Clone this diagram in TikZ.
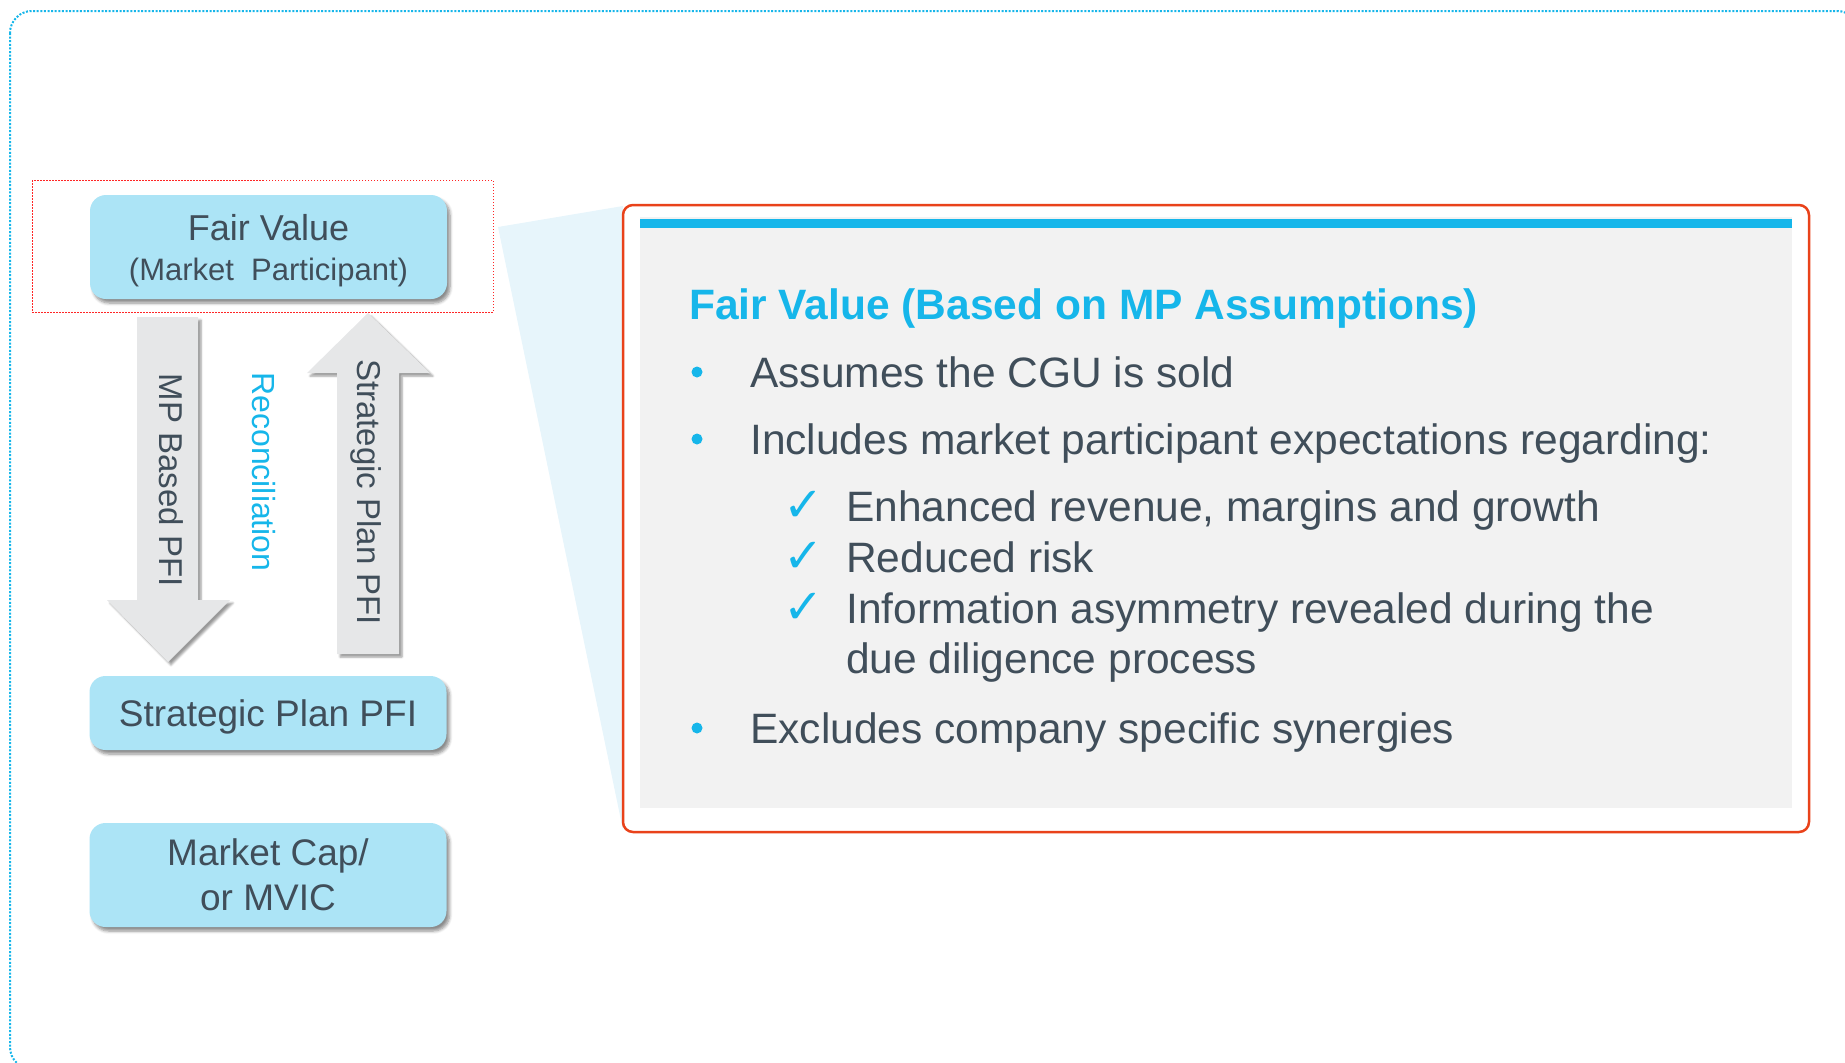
\documentclass[tikz,border=0pt]{standalone}
\usepackage{fontspec}
\setmainfont{Liberation Sans}
\newfontfamily\symfont{DejaVu Sans}
\usetikzlibrary{positioning,shadows.blur}

\definecolor{fvcyan}{RGB}{22,182,234}
\definecolor{fvbox}{RGB}{172,228,246}
\definecolor{fvtext}{RGB}{64,78,90}
\definecolor{fvgray}{RGB}{242,242,242}
\definecolor{fvwedge}{RGB}{231,245,251}
\definecolor{fvred}{RGB}{233,66,26}
\definecolor{arrowgray}{RGB}{230,231,232}

\begin{document}
\begin{tikzpicture}[x=1pt,y=-1pt,
    box/.style={fill=fvbox, rounded corners=16pt, minimum width=357pt, text=fvtext, align=center, inner sep=0pt,
      font=\fontsize{37}{45}\selectfont,
      blur shadow={shadow xshift=3pt, shadow yshift=-4pt, shadow blur radius=3pt, shadow blur steps=6, shadow opacity=45}},
    blockarrow/.style={fill=arrowgray, blur shadow={shadow xshift=3pt, shadow yshift=-3pt, shadow blur radius=2pt, shadow blur steps=5, shadow opacity=40}},
    sidetext/.style={rotate=-90, anchor=base, text=fvtext, inner sep=0pt, font=\fontsize{33}{38}\selectfont},
    bodytext/.style={anchor=base west, text=fvtext, inner sep=0pt, font=\fontsize{42.5}{50}\selectfont},
    bulletdot/.style={circle, fill=fvcyan, minimum size=11pt, inner sep=0pt},
    tickmark/.style={anchor=base, text=fvcyan, inner sep=0pt, font=\symfont\fontsize{48}{54}\selectfont}]
    \useasboundingbox (0,0) rectangle (1845,1063);
    \clip (0,0) rectangle (1845,1063);

    % outer frame, runs off the page on the right and bottom
    \draw[fvcyan, line width=2pt, dash pattern=on 2pt off 1.6pt, rounded corners=22pt] (10,11) rectangle (1859,1069);

    % left column
    \draw[red!85, line width=1pt, dash pattern=on 1.5pt off 1.5pt] (32,180) rectangle (493,312);
    \node[box, minimum height=104pt, text depth=0pt] (fv) at (268.5,247) {\fontsize{36}{40}\selectfont Fair Value\\[-5pt]\fontsize{31}{36}\selectfont (Market\ \ Participant)};
    \node[box, minimum height=74pt, text depth=0pt] (sp) at (268,713) {Strategic Plan PFI};
    \node[box, minimum height=104pt] (mc) at (268,875) {Market Cap/\\or MVIC};

    \fill[blockarrow] (137,317) -- (198,317) -- (198,600) -- (230,600) -- (168,662) -- (107,600) -- (137,600) -- cycle;
    \fill[blockarrow] (337,654) -- (399,654) -- (399,373) -- (430,373) -- (368,313) -- (307,373) -- (337,373) -- cycle;
    \node[sidetext] (mpfi) at (159,480) {MP Based PFI};
    \node[sidetext, text=fvcyan, font=\fontsize{32}{36}\selectfont] (recon) at (252,472) {Reconciliation};
    \node[sidetext] (spfi) at (357,492) {Strategic Plan PFI};

    % detail panel
    \fill[fvwedge] (498,227) -- (623,206) -- (623,830) -- cycle;
    \draw[fvred, line width=2.5pt, rounded corners=10pt] (623,205) rectangle (1809,832);
    \fill[fvgray] (640,217) rectangle (1792,808);
    \fill[fvcyan] (640,219) rectangle (1792,228);

    \node[bodytext, text=fvcyan, font=\bfseries\fontsize{42.5}{50}\selectfont] (title) at (689,319) {Fair Value (Based on MP Assumptions)};
    \node[bulletdot] (b1) at (697,372) {};
    \node[bodytext] (t1) at (750,387) {Assumes the CGU is sold};
    \node[bulletdot] (b2) at (697,439) {};
    \node[bodytext] (t2) at (750,454) {Includes market participant expectations regarding:};
    \node[tickmark] (c1) at (804,521) {✓};
    \node[bodytext] (t3) at (846,521) {Enhanced revenue, margins and growth};
    \node[tickmark] (c2) at (804,572) {✓};
    \node[bodytext] (t4) at (846,572) {Reduced risk};
    \node[tickmark] (c3) at (804,623) {✓};
    \node[bodytext] (t5) at (846,623) {Information asymmetry revealed during the};
    \node[bodytext] (t6) at (846,673) {due diligence process};
    \node[bulletdot] (b3) at (697,728) {};
    \node[bodytext] (t7) at (750,743) {Excludes company specific synergies};
\end{tikzpicture}
\end{document}
